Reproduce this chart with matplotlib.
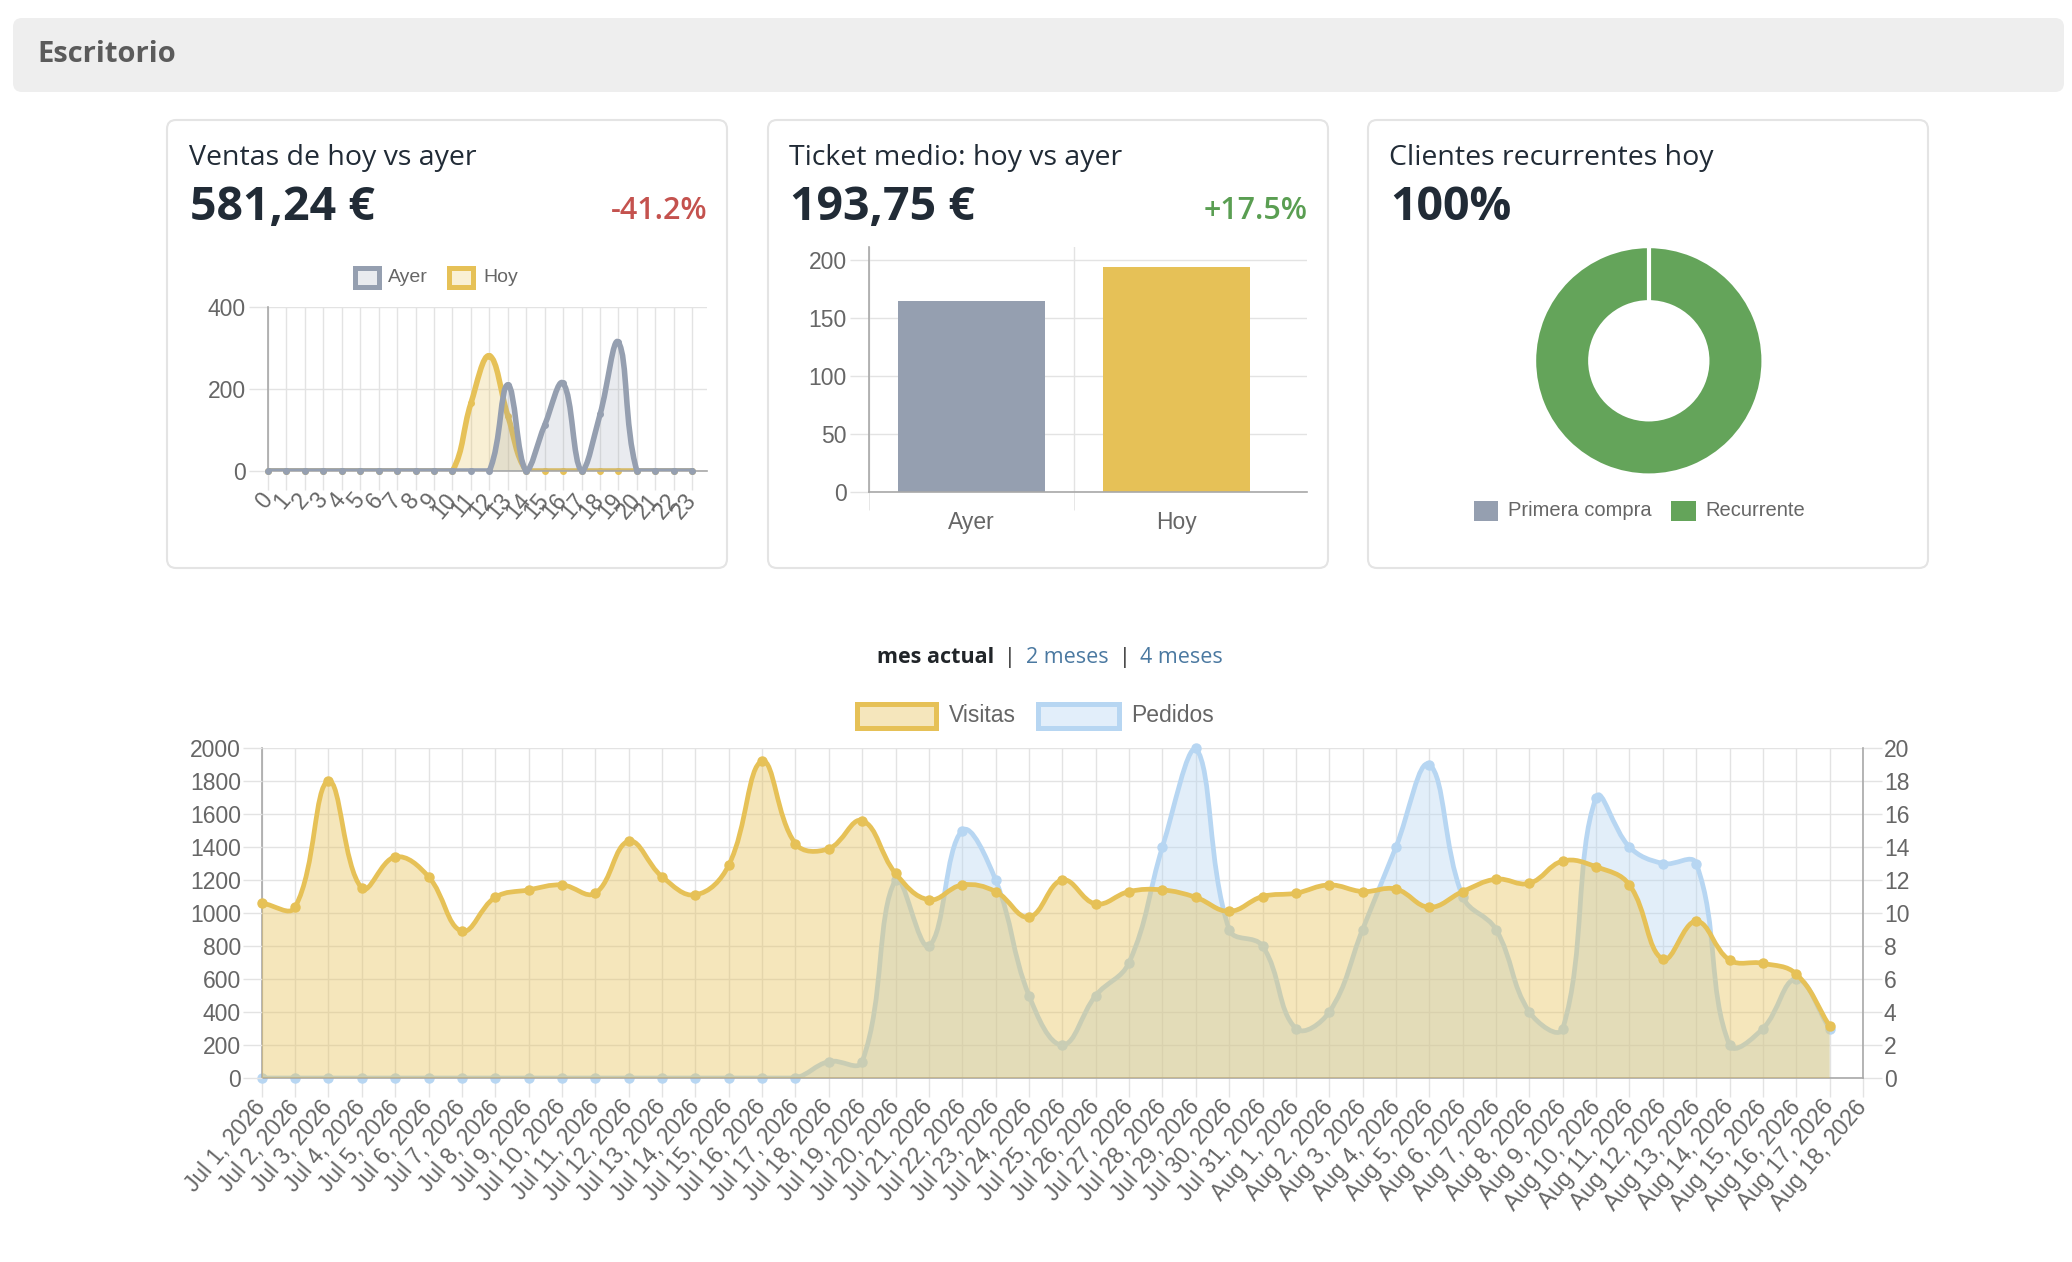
import numpy as np
import matplotlib
matplotlib.use("Agg")
import matplotlib.pyplot as plt
from matplotlib.path import Path
from matplotlib.patches import PathPatch, FancyBboxPatch, Rectangle

W, H = 2072, 1262
DPI = 100

# ---- data ----
horas = list(range(24))
ventas_ayer = [0, 0, 0, 0, 0, 0, 0, 0, 0, 0, 0, 0, 0,
               210, 0, 112, 214, 0, 138, 314, 0, 0, 0, 0]
ventas_hoy = [0, 0, 0, 0, 0, 0, 0, 0, 0, 0, 0,
              165, 281, 135, 0, 0, 0, 0, 0, 0, 0, 0, 0, 0]

ticket_labels = ["Ayer", "Hoy"]
ticket_values = [164.89, 193.75]

clientes_labels = ["Primera compra", "Recurrente"]
clientes_values = [0, 100]

fechas = ([f"Jul {d}, 2026" for d in range(1, 32)] +
          [f"Aug {d}, 2026" for d in range(1, 19)])
visitas = [1060, 1035, 1800, 1150, 1340, 1220, 890, 1095, 1140, 1170, 1120,
           1435, 1220, 1110, 1290, 1920, 1420, 1390, 1560, 1240, 1080, 1170,
           1130, 975, 1200, 1055, 1130, 1140, 1095, 1010, 1100, 1120, 1170,
           1130, 1145, 1035, 1130, 1205, 1180, 1315, 1280, 1170, 720, 950,
           715, 695, 630, 315]
pedidos = [0, 0, 0, 0, 0, 0, 0, 0, 0, 0, 0, 0, 0, 0, 0, 0, 0,
           1, 1, 12, 8, 15, 12, 5, 2, 5, 7, 14, 20, 9, 8, 3, 4,
           9, 14, 19, 11, 9, 4, 3, 17, 14, 13, 13, 2, 3, 6, 3]

# ---- style ----
GRAY = "#959fb0"
YELLOW = "#e6c157"
BLUE = "#b7d6f2"
GREEN = "#64a45a"
GRID = "#e3e3e3"
AXIS = "#a8a8a8"
TICK = "#666666"
UI_FONT = ["Open Sans", "DejaVu Sans"]
CHART_FONT = ["Liberation Sans", "DejaVu Sans"]

plt.rcParams["font.family"] = CHART_FONT


def rect(l, t, r, b):
    return [l / W, 1 - b / H, (r - l) / W, (b - t) / H]


def spline_path(x, y, sx, sy, ylo, yhi, tension=0.4):
    # chart.js style bezier control points, computed in pixel space
    px = np.asarray(x, float) * sx
    py = np.asarray(y, float) * sy
    n = len(px)
    prev_cp, next_cp = [], []
    for i in range(n):
        a, c = max(i - 1, 0), min(i + 1, n - 1)
        d01 = np.hypot(px[i] - px[a], py[i] - py[a])
        d12 = np.hypot(px[c] - px[i], py[c] - py[i])
        tot = d01 + d12
        fa = tension * (d01 / tot if tot else 0)
        fb = tension * (d12 / tot if tot else 0)
        dx, dy = px[c] - px[a], py[c] - py[a]
        prev_cp.append((px[i] - fa * dx, py[i] - fa * dy))
        next_cp.append((px[i] + fb * dx, py[i] + fb * dy))
    verts = [(x[0], y[0])]
    codes = [Path.MOVETO]
    for i in range(n - 1):
        c1, c2 = next_cp[i], prev_cp[i + 1]
        verts += [(c1[0] / sx, np.clip(c1[1] / sy, ylo, yhi)),
                  (c2[0] / sx, np.clip(c2[1] / sy, ylo, yhi)),
                  (x[i + 1], y[i + 1])]
        codes += [Path.CURVE4] * 3
    return verts, codes


def area_line(ax, x, y, color, alpha, sx, sy, ylo, yhi, z, lw=3.4, ms=6.5):
    verts, codes = spline_path(x, y, sx, sy, ylo, yhi)
    fill = Path(verts + [(x[-1], 0), (x[0], 0), (x[0], y[0])],
                codes + [Path.LINETO, Path.LINETO, Path.CLOSEPOLY])
    ax.add_patch(PathPatch(fill, facecolor=color, alpha=alpha, lw=0, zorder=z))
    ax.add_patch(PathPatch(Path(verts, codes), facecolor="none",
                           edgecolor=color, lw=lw, zorder=z + 0.1,
                           capstyle="round", joinstyle="round"))
    ax.plot(x, y, "o", ms=ms, mfc=color, mec=color, mew=1,
            zorder=z + 0.2, clip_on=False)


def style_axis(ax):
    ax.set_axisbelow(True)
    for s in ax.spines.values():
        s.set_color(AXIS)
        s.set_linewidth(1.2)
    ax.spines["top"].set_visible(False)
    ax.spines["right"].set_visible(False)
    ax.tick_params(length=14, width=1, color=GRID, labelsize=16.5,
                   labelcolor=TICK, pad=2)


fig = plt.figure(figsize=(W / DPI, H / DPI), dpi=DPI)
bg = fig.add_axes([0, 0, 1, 1], zorder=0)
bg.set_xlim(0, W)
bg.set_ylim(H, 0)
bg.axis("off")

# header bar
bg.add_patch(FancyBboxPatch((13, 18), 2051, 74,
                            boxstyle="round,pad=0,rounding_size=9",
                            fc="#eeeeee", ec="none"))
bg.text(37, 62, "Escritorio", fontsize=21, fontweight="bold",
        color="#5b5b5b", family=UI_FONT)

# cards
for cx in (167, 768, 1368):
    bg.add_patch(FancyBboxPatch((cx, 120), 560, 448,
                                boxstyle="round,pad=0,rounding_size=9",
                                fc="white", ec="#e4e4e4", lw=1.5))

cards = [(189, "Ventas de hoy vs ayer", "581,24 €", "-41.2%", "#c4524e", 708),
         (789, "Ticket medio: hoy vs ayer", "193,75 €", "+17.5%", "#5a9e52", 1308),
         (1389, "Clientes recurrentes hoy", "100%", None, None, None)]
for x0, title, big, pct, pcol, px_r in cards:
    bg.text(x0, 165, title, fontsize=20.5, color="#212b36", family=UI_FONT)
    bg.text(x0 + 1, 220, big, fontsize=33.5, fontweight="bold",
            color="#212b36", family=UI_FONT)
    if pct:
        bg.text(px_r, 219, pct, fontsize=22, fontweight="semibold",
                color=pcol, ha="right", family=UI_FONT)

# ---- ventas de hoy vs ayer ----
l, t, r, b = 268, 307, 707, 471
ax1 = fig.add_axes(rect(l, t, r, b), zorder=2)
ax1.set_xlim(0, 23.8)
ax1.set_ylim(0, 400)
sx, sy = (r - l) / 23.8, (b - t) / 400
area_line(ax1, horas, ventas_hoy, YELLOW, 0.25, sx, sy, 0, 400, 2, lw=4, ms=4)
area_line(ax1, horas, ventas_ayer, GRAY, 0.2, sx, sy, 0, 400, 4, lw=4, ms=4)
style_axis(ax1)
ax1.grid(True, color=GRID, lw=1)
ax1.set_yticks([0, 200, 400])
ax1.set_xticks(horas)
ax1.set_xticklabels([str(h) for h in horas], rotation=50, ha="right",
                    va="center", rotation_mode="anchor")
ax1.tick_params(axis="x", pad=4)
bg.add_patch(Rectangle((354.5, 267.5), 24, 19, fc="#e9ebef", ec=GRAY, lw=3.6))
bg.text(388, 277, "Ayer", fontsize=14, color=TICK, va="center")
bg.add_patch(Rectangle((448.5, 267.5), 24, 19, fc="#f9f0d4", ec=YELLOW, lw=3.6))
bg.text(483, 277, "Hoy", fontsize=14, color=TICK, va="center")

# ---- ticket medio ----
l, t, r, b = 869, 247, 1307, 491.7
ax2 = fig.add_axes(rect(l, t, r, b), zorder=2)
ax2.bar(range(len(ticket_values)), ticket_values, width=0.72,
        color=[GRAY, YELLOW], zorder=2)
ax2.set_xlim(-0.5, 1.637)
ax2.set_ylim(0, 211.2)
style_axis(ax2)
ax2.set_yticks(range(0, 201, 50))
ax2.yaxis.grid(True, color=GRID, lw=1)
ax2.set_xticks(range(len(ticket_labels)))
ax2.set_xticklabels(ticket_labels)
ax2.set_xticks([-0.5, 0.5], minor=True)
ax2.xaxis.grid(True, which="minor", color=GRID, lw=1)
ax2.tick_params(axis="x", which="major", length=0, pad=22)
ax2.tick_params(axis="x", which="minor", length=13, color=GRID)
for lab in ax2.get_xticklabels():
    lab.set_va("center")

# ---- clientes recurrentes ----
cxd, cyd, rad = 1648.8, 360.8, 114
ax3 = fig.add_axes(rect(cxd - rad, cyd - rad, cxd + rad, cyd + rad), zorder=2)
wedges, _ = ax3.pie(clientes_values, colors=[GRAY, GREEN], startangle=90,
                    counterclock=False, radius=1,
                    wedgeprops=dict(width=0.48, edgecolor="white", linewidth=2))
# white border between slices at the start angle
ang = np.deg2rad(90)
ax3.plot([0.52 * np.cos(ang), np.cos(ang)], [0.52 * np.sin(ang), np.sin(ang)],
         color="white", lw=3, solid_capstyle="butt", zorder=5)
ax3.set_xlim(-1, 1)
ax3.set_ylim(-1, 1)
ax3.set_aspect("equal")
ax3.axis("off")
bg.add_patch(Rectangle((1474, 501), 24, 20, fc=GRAY, ec="none"))
bg.text(1508.4, 511, clientes_labels[0], fontsize=14.5, color=TICK, va="center")
bg.add_patch(Rectangle((1671, 501), 24.5, 20, fc=GREEN, ec="none"))
bg.text(1705.5, 511, clientes_labels[1], fontsize=14.5, color=TICK, va="center")

# ---- range selector ----
renderer = fig.canvas.get_renderer()
xpos = 877
pieces = [("mes actual", "#212529", "bold"), ("|", "#333333", "normal"),
          ("2 meses", "#4b79a1", "normal"), ("|", "#333333", "normal"),
          ("4 meses", "#4b79a1", "normal")]
for txt, col, wt in pieces:
    tt = bg.text(xpos, 663, txt, fontsize=15.5, color=col, fontweight=wt,
                 family=UI_FONT)
    xpos += tt.get_window_extent(renderer).width + 10

# ---- visitas / pedidos ----
l, t, r, b = 261.7, 748, 1863, 1078
axp = fig.add_axes(rect(l, t, r, b), zorder=2)
axv = axp.twinx()
n = len(fechas) - 1
axp.set_xlim(0, n)
axp.set_ylim(0, 20)
axv.set_ylim(0, 2000)
sxb = (r - l) / n
idx = list(range(len(visitas)))
area_line(axp, idx, pedidos, BLUE, 0.4, sxb, (b - t) / 20, 0, 20, 2)
area_line(axv, idx, visitas, YELLOW, 0.4, sxb, (b - t) / 2000, 0, 2000, 2)

style_axis(axp)
axp.spines["right"].set_visible(True)
axp.grid(True, color=GRID, lw=1)
axp.yaxis.tick_right()
axp.set_yticks(range(0, 21, 2))
axp.set_xticks(range(len(fechas)))
axp.set_xticklabels(fechas, rotation=50, ha="right", va="center",
                    rotation_mode="anchor")
axp.tick_params(axis="x", pad=4)
axp.tick_params(axis="y", pad=1)
for s in axv.spines.values():
    s.set_visible(False)
axv.yaxis.tick_left()
axv.set_yticks(range(0, 2001, 200))
axv.tick_params(axis="y", length=14, width=1, color=GRID, labelsize=16.5,
                labelcolor=TICK, pad=1)

bg.add_patch(Rectangle((857, 703.5), 79, 24, fc="#f5e6bc", ec=YELLOW, lw=3.6))
bg.text(949, 716, "Visitas", fontsize=16.5, color=TICK, va="center")
bg.add_patch(Rectangle((1038, 703.5), 80.5, 24, fc="#e2eefa", ec=BLUE, lw=3.6))
bg.text(1131.6, 716, "Pedidos", fontsize=16.5, color=TICK, va="center")

fig.savefig("out.png", dpi=DPI)
